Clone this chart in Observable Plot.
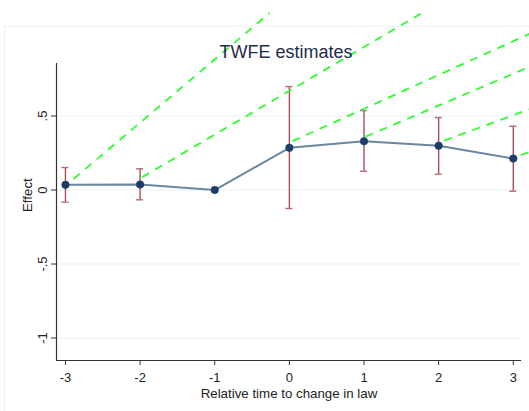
<!DOCTYPE html>
<html>
<head>
<meta charset="utf-8">
<script src="https://cdn.jsdelivr.net/npm/d3@7"></script>
<script src="https://cdn.jsdelivr.net/npm/@observablehq/plot@0.6"></script>
<style>
  html, body { margin: 0; padding: 0; background: white; }
  #wrap { position: relative; width: 529px; height: 411px; overflow: hidden; }
  #box { position: absolute; left: 4px; top: 26px; width: 600px; height: 500px;
         border-left: 1px solid #eef3f3; border-top: 1px solid #eef3f3; }
  #chart { position: absolute; left: 0; top: 0; }
</style>
</head>
<body>
<div id="wrap"><div id="box"></div><div id="chart"></div></div>
<script>
// Event-study estimates (relative time to change in law)
const relTime  = [-3, -2, -1, 0, 1, 2, 3];
const estimate = [0.035, 0.037, 0, 0.285, 0.330, 0.299, 0.213];
const ciLow    = [-0.082, -0.066, null, -0.125, 0.127, 0.107, -0.008];
const ciHigh   = [0.152, 0.143, null, 0.699, 0.537, 0.490, 0.431];

// Dashed green trend segments (start / end points)
const trendX1 = [-2.889, -1.972, 0.040, 1.023, 2.074, 3.100];
const trendY1 = [0.076, 0.087, 0.330, 0.361, 0.334, 0.235];
const trendX2 = [-0.264, 1.771, 3.214, 3.223, 3.223, 3.223];
const trendY2 = [1.197, 1.195, 1.055, 0.834, 0.547, 0.258];

const xTicks = [-3, -2, -1, 0, 1, 2, 3];
const xTickLabels = ["-3", "-2", "-1", "0", "1", "2", "3"];
const yTicks = [-1, -0.5, 0, 0.5];
const yTickLabels = ["-1", "-.5", "0", ".5"];

const titleText = "TWFE estimates";
const xLabel = "Relative time to change in law";
const yLabel = "Effect";

const pts = relTime.map((t, i) => ({t, est: estimate[i], lo: ciLow[i], hi: ciHigh[i]}));
const bars = pts.filter(d => d.lo != null);
const trends = trendX1.map((x1, i) => ({x1, y1: trendY1[i], x2: trendX2[i], y2: trendY2[i]}));
const capHalf = 0.047;

const font = "Liberation Sans, Arial, Helvetica, sans-serif";

const chart = Plot.plot({
  width: 529,
  height: 411,
  marginLeft: 56,
  marginRight: 8,
  marginTop: 63,
  marginBottom: 51,
  style: {background: "transparent", fontFamily: font, fontSize: "13px", color: "#222"},
  x: {domain: [-3.12, 3.11]},
  y: {domain: [-1.152, 0.855]},
  marks: [
    Plot.gridY(yTicks, {stroke: "#e9f0f0", strokeOpacity: 1, strokeWidth: 1}),
    Plot.axisX({ticks: xTicks, tickFormat: d => xTickLabels[xTicks.indexOf(d)], tickSize: 5, tickPadding: 7,
      label: null, stroke: "#333", fill: "#222", fontSize: 13}),
    Plot.axisY({ticks: yTicks, tickFormat: d => yTickLabels[yTicks.indexOf(d)], tickSize: 5, tickPadding: 4.5,
      tickRotate: -90, textAnchor: "middle", lineAnchor: "bottom",
      label: null, stroke: "#333", fill: "#222", fontSize: 13}),
    Plot.ruleY([-1.152], {stroke: "#333", strokeWidth: 1.2}),
    Plot.ruleX([-3.12], {stroke: "#333", strokeWidth: 1.2}),
    Plot.line(pts, {x: "t", y: "est", stroke: "#6b86a1", strokeWidth: 2}),
    Plot.ruleX(bars, {x: "t", y1: "lo", y2: "hi", stroke: "#a8505a", strokeWidth: 1.4}),
    Plot.ruleY(bars, {y: "hi", x1: d => d.t - capHalf, x2: d => d.t + capHalf, stroke: "#b86a72", strokeWidth: 1.4}),
    Plot.ruleY(bars, {y: "lo", x1: d => d.t - capHalf, x2: d => d.t + capHalf, stroke: "#b86a72", strokeWidth: 1.4}),
    Plot.dot(pts, {x: "t", y: "est", r: 3.8, fill: "#1b3d66", stroke: "#1b3d66", strokeWidth: 0.5}),
    Plot.link(trends, {x1: "x1", y1: "y1", x2: "x2", y2: "y2", stroke: "#2cff2c", strokeWidth: 1.8, strokeDasharray: "8,7"}),
    Plot.text([titleText], {frameAnchor: "top", dx: -3, dy: -11.5, lineAnchor: "middle", fontSize: 18, fill: "#1e2d4a", fontFamily: font}),
    Plot.text([xLabel], {frameAnchor: "bottom", dy: 33, lineAnchor: "middle", fontSize: 13.3, fill: "#222", fontFamily: font}),
    Plot.text([yLabel], {frameAnchor: "left", dx: -29, rotate: -90, lineAnchor: "middle", fontSize: 13.3, fill: "#222", fontFamily: font})
  ]
});
document.getElementById("chart").appendChild(chart);
</script>
</body>
</html>
